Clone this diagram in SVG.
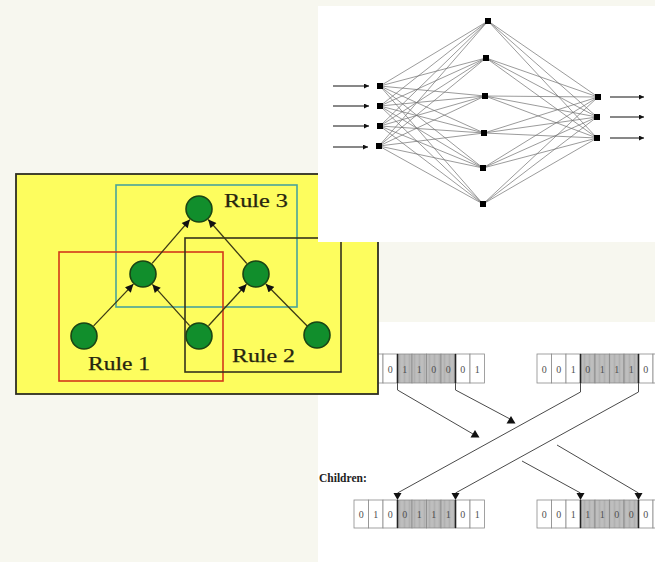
<svg xmlns="http://www.w3.org/2000/svg" width="655" height="562" viewBox="0 0 655 562">
  <style>
    .panel { fill: #ffffff; }
    .nn-edge { stroke: #707070; stroke-width: 0.7; fill: none; }
    .unit { fill: #000000; }
    .io { stroke: #111111; stroke-width: 1; fill: none; }
    .rule-node { fill: #118e2c; stroke: #1a4514; stroke-width: 1.6; }
    .rule-edge { stroke: #3c3a14; stroke-width: 1.3; fill: none; }
    .rule-label { font-family: "Liberation Serif", "Times New Roman", serif; font-size: 18px; fill: #26250f; stroke: #26250f; stroke-width: 0.25; }
    .cell { fill: #ffffff; stroke: #8a8a8a; stroke-width: 0.8; }
    .cell-x { fill: url(#stripes); stroke: #8a8a8a; stroke-width: 0.8; }
    .cut { stroke: #222222; stroke-width: 1.6; }
    .bit { font-family: "Liberation Serif", "Times New Roman", serif; font-size: 10px; fill: #505050; text-anchor: middle; }
    .ga-edge { stroke: #4a4a4a; stroke-width: 1; fill: none; }
    .head { fill: #111111; }
  </style>
  <defs>
    <marker id="nnArrow" viewBox="0 0 10 10" refX="10" refY="5" markerWidth="7" markerHeight="5" markerUnits="userSpaceOnUse" orient="auto">
      <path d="M0,0 L10,5 L0,10 z" fill="#111111"/>
    </marker>
    <marker id="ruleArrow" viewBox="0 0 10 10" refX="10" refY="5" markerWidth="9" markerHeight="8" markerUnits="userSpaceOnUse" orient="auto">
      <path d="M0,0 L10,5 L0,10 z" fill="#111111"/>
    </marker>
    <pattern id="stripes" width="5" height="10" patternUnits="userSpaceOnUse">
      <rect width="5" height="10" fill="#b9b9b9"/>
      <rect x="1.5" width="1" height="10" fill="#c3c3c3"/>
      <rect x="4" width="0.8" height="10" fill="#afafaf"/>
    </pattern>
  </defs>

  <!-- page background -->
  <rect width="655" height="562" fill="#f7f7ef"/>

  <!-- ===== Genetic crossover panel ===== -->
  <g id="crossover">
    <rect class="panel" x="318" y="322" width="337" height="240"/>

    <g id="parent1">
      <rect class="cell" x="354" y="354" width="14.5" height="29"/>
      <rect class="cell" x="368.5" y="354" width="14.5" height="29"/>
      <rect class="cell" x="383" y="354" width="14.5" height="29"/>
      <rect class="cell-x" x="397.5" y="354" width="14.5" height="29"/>
      <rect class="cell-x" x="412" y="354" width="14.5" height="29"/>
      <rect class="cell-x" x="426.5" y="354" width="14.5" height="29"/>
      <rect class="cell-x" x="441" y="354" width="14.5" height="29"/>
      <rect class="cell" x="455.5" y="354" width="14.5" height="29"/>
      <rect class="cell" x="470" y="354" width="14.5" height="29"/>
      <line class="cut" x1="397.5" y1="354" x2="397.5" y2="383"/>
      <line class="cut" x1="455.5" y1="354" x2="455.5" y2="383"/>
      <text class="bit" x="361.2" y="373">0</text>
      <text class="bit" x="375.7" y="373">1</text>
      <text class="bit" x="390.2" y="373">0</text>
      <text class="bit" x="404.7" y="373">1</text>
      <text class="bit" x="419.2" y="373">1</text>
      <text class="bit" x="433.7" y="373">0</text>
      <text class="bit" x="448.2" y="373">0</text>
      <text class="bit" x="462.7" y="373">0</text>
      <text class="bit" x="477.2" y="373">1</text>
    </g>

    <g id="parent2">
      <rect class="cell" x="537" y="354" width="14.5" height="29"/>
      <rect class="cell" x="551.5" y="354" width="14.5" height="29"/>
      <rect class="cell" x="566" y="354" width="14.5" height="29"/>
      <rect class="cell-x" x="580.5" y="354" width="14.5" height="29"/>
      <rect class="cell-x" x="595" y="354" width="14.5" height="29"/>
      <rect class="cell-x" x="609.5" y="354" width="14.5" height="29"/>
      <rect class="cell-x" x="624" y="354" width="14.5" height="29"/>
      <rect class="cell" x="638.5" y="354" width="14.5" height="29"/>
      <rect class="cell" x="653" y="354" width="14.5" height="29"/>
      <line class="cut" x1="580.5" y1="354" x2="580.5" y2="383"/>
      <line class="cut" x1="638.5" y1="354" x2="638.5" y2="383"/>
      <text class="bit" x="544.2" y="373">0</text>
      <text class="bit" x="558.7" y="373">0</text>
      <text class="bit" x="573.2" y="373">1</text>
      <text class="bit" x="587.7" y="373">0</text>
      <text class="bit" x="602.2" y="373">1</text>
      <text class="bit" x="616.7" y="373">1</text>
      <text class="bit" x="631.2" y="373">1</text>
      <text class="bit" x="645.7" y="373">0</text>
    </g>

    <text id="children-label" x="319" y="482" font-family="'Liberation Serif', 'Times New Roman', serif" font-size="11.5" font-weight="bold" fill="#222222">Children:</text>

    <g id="child1">
      <rect class="cell" x="354" y="500" width="14.5" height="28"/>
      <rect class="cell" x="368.5" y="500" width="14.5" height="28"/>
      <rect class="cell" x="383" y="500" width="14.5" height="28"/>
      <rect class="cell-x" x="397.5" y="500" width="14.5" height="28"/>
      <rect class="cell-x" x="412" y="500" width="14.5" height="28"/>
      <rect class="cell-x" x="426.5" y="500" width="14.5" height="28"/>
      <rect class="cell-x" x="441" y="500" width="14.5" height="28"/>
      <rect class="cell" x="455.5" y="500" width="14.5" height="28"/>
      <rect class="cell" x="470" y="500" width="14.5" height="28"/>
      <line class="cut" x1="397.5" y1="500" x2="397.5" y2="528"/>
      <line class="cut" x1="455.5" y1="500" x2="455.5" y2="528"/>
      <text class="bit" x="361.2" y="518">0</text>
      <text class="bit" x="375.7" y="518">1</text>
      <text class="bit" x="390.2" y="518">0</text>
      <text class="bit" x="404.7" y="518">0</text>
      <text class="bit" x="419.2" y="518">1</text>
      <text class="bit" x="433.7" y="518">1</text>
      <text class="bit" x="448.2" y="518">1</text>
      <text class="bit" x="462.7" y="518">0</text>
      <text class="bit" x="477.2" y="518">1</text>
    </g>

    <g id="child2">
      <rect class="cell" x="537" y="500" width="14.5" height="28"/>
      <rect class="cell" x="551.5" y="500" width="14.5" height="28"/>
      <rect class="cell" x="566" y="500" width="14.5" height="28"/>
      <rect class="cell-x" x="580.5" y="500" width="14.5" height="28"/>
      <rect class="cell-x" x="595" y="500" width="14.5" height="28"/>
      <rect class="cell-x" x="609.5" y="500" width="14.5" height="28"/>
      <rect class="cell-x" x="624" y="500" width="14.5" height="28"/>
      <rect class="cell" x="638.5" y="500" width="14.5" height="28"/>
      <rect class="cell" x="653" y="500" width="14.5" height="28"/>
      <line class="cut" x1="580.5" y1="500" x2="580.5" y2="528"/>
      <line class="cut" x1="638.5" y1="500" x2="638.5" y2="528"/>
      <text class="bit" x="544.2" y="518">0</text>
      <text class="bit" x="558.7" y="518">0</text>
      <text class="bit" x="573.2" y="518">1</text>
      <text class="bit" x="587.7" y="518">1</text>
      <text class="bit" x="602.2" y="518">1</text>
      <text class="bit" x="616.7" y="518">0</text>
      <text class="bit" x="631.2" y="518">0</text>
      <text class="bit" x="645.7" y="518">0</text>
    </g>

    <g id="crossover-links">
      <!-- segments from the second parent run unbroken -->
      <polyline class="ga-edge" points="580.5,383 580.5,392 397.5,493 397.5,496"/>
      <polyline class="ga-edge" points="638.5,383 638.5,392 455.5,493 455.5,496"/>
      <!-- segments from the first parent break where they cross -->
      <polyline class="ga-edge" points="397.5,383 397.5,390 473,434"/>
      <polyline class="ga-edge" points="522,461 580.5,493 580.5,496"/>
      <polyline class="ga-edge" points="455.5,383 455.5,390 510,419"/>
      <polyline class="ga-edge" points="557,445 638.5,493 638.5,496"/>
      <polygon class="head" points="475,430 470.5,437.5 479.5,437.5"/>
      <polygon class="head" points="511,416 506.5,423.5 515.5,423.5"/>
      <polygon class="head" points="397.5,500 393.5,493 401.5,493"/>
      <polygon class="head" points="455.5,500 451.5,493 459.5,493"/>
      <polygon class="head" points="580.5,500 576.5,493 584.5,493"/>
      <polygon class="head" points="638.5,500 634.5,493 642.5,493"/>
    </g>
  </g>

  <!-- ===== Rule network panel ===== -->
  <g id="rules">
    <rect x="16" y="174" width="362" height="220" fill="#fdfd5e" stroke="#2e2e22" stroke-width="1.8"/>

    <g id="rule3-box"><rect x="116" y="185" width="181" height="122" fill="none" stroke="#4aa39a" stroke-width="1.6"/></g>
    <g id="rule1-box"><rect x="59" y="252" width="164" height="129" fill="none" stroke="#d2381a" stroke-width="1.6"/></g>
    <g id="rule2-box"><rect x="185" y="238" width="156" height="134" fill="none" stroke="#35331c" stroke-width="1.6"/></g>

    <g id="rule-links">
      <line class="rule-edge" x1="93.6" y1="325.9" x2="133.4" y2="284.1" marker-end="url(#ruleArrow)"/>
      <line class="rule-edge" x1="189.6" y1="325.6" x2="152.4" y2="284.4" marker-end="url(#ruleArrow)"/>
      <line class="rule-edge" x1="208.5" y1="325.7" x2="246.5" y2="284.3" marker-end="url(#ruleArrow)"/>
      <line class="rule-edge" x1="307.2" y1="326" x2="265.8" y2="284" marker-end="url(#ruleArrow)"/>
      <line class="rule-edge" x1="152.1" y1="263.4" x2="189.9" y2="219.6" marker-end="url(#ruleArrow)"/>
      <line class="rule-edge" x1="246.8" y1="263.5" x2="208.2" y2="219.5" marker-end="url(#ruleArrow)"/>
    </g>

    <g id="node-top"><circle class="rule-node" cx="199" cy="209" r="13"/></g>
    <g id="node-mid-left"><circle class="rule-node" cx="143" cy="274" r="13"/></g>
    <g id="node-mid-right"><circle class="rule-node" cx="256" cy="274" r="13"/></g>
    <g id="node-bottom-left"><circle class="rule-node" cx="84" cy="336" r="13"/></g>
    <g id="node-bottom-mid"><circle class="rule-node" cx="199" cy="336" r="13"/></g>
    <g id="node-bottom-right"><circle class="rule-node" cx="317" cy="335" r="13"/></g>

    <text class="rule-label" x="224" y="207" textLength="64" lengthAdjust="spacingAndGlyphs">Rule 3</text>
    <text class="rule-label" x="88" y="370" textLength="62" lengthAdjust="spacingAndGlyphs">Rule 1</text>
    <text class="rule-label" x="232" y="362" textLength="63" lengthAdjust="spacingAndGlyphs">Rule 2</text>
  </g>

  <!-- ===== Feed-forward network panel ===== -->
  <g id="network">
    <rect class="panel" x="318" y="6" width="337" height="236"/>

    <g id="nn-links">
      <!-- input layer to hidden layer -->
      <path class="nn-edge" d="M380,86 L488,21 M380,86 L486,58 M380,86 L485,96 M380,86 L484,133 M380,86 L483,168 M380,86 L483,204
        M380,106 L488,21 M380,106 L486,58 M380,106 L485,96 M380,106 L484,133 M380,106 L483,168 M380,106 L483,204
        M380,126 L488,21 M380,126 L486,58 M380,126 L485,96 M380,126 L484,133 M380,126 L483,168 M380,126 L483,204
        M379,146 L488,21 M379,146 L486,58 M379,146 L485,96 M379,146 L484,133 M379,146 L483,168 M379,146 L483,204"/>
      <!-- hidden layer to output layer -->
      <path class="nn-edge" d="M488,21 L598,97 M488,21 L597,117 M488,21 L597,138
        M486,58 L598,97 M486,58 L597,117 M486,58 L597,138
        M485,96 L598,97 M485,96 L597,117 M485,96 L597,138
        M484,133 L598,97 M484,133 L597,117 M484,133 L597,138
        M483,168 L598,97 M483,168 L597,117 M483,168 L597,138
        M483,204 L598,97 M483,204 L597,117 M483,204 L597,138"/>
      <!-- inputs and outputs -->
      <line class="io" x1="333" y1="86" x2="369" y2="86" marker-end="url(#nnArrow)"/>
      <line class="io" x1="333" y1="106" x2="369" y2="106" marker-end="url(#nnArrow)"/>
      <line class="io" x1="333" y1="126" x2="369" y2="126" marker-end="url(#nnArrow)"/>
      <line class="io" x1="333" y1="147" x2="368" y2="147" marker-end="url(#nnArrow)"/>
      <line class="io" x1="610" y1="97" x2="644" y2="97" marker-end="url(#nnArrow)"/>
      <line class="io" x1="610" y1="117" x2="644" y2="117" marker-end="url(#nnArrow)"/>
      <line class="io" x1="610" y1="138" x2="644" y2="138" marker-end="url(#nnArrow)"/>
    </g>

    <g id="in-1"><rect class="unit" x="377" y="83" width="6" height="6"/></g>
    <g id="in-2"><rect class="unit" x="377" y="103" width="6" height="6"/></g>
    <g id="in-3"><rect class="unit" x="377" y="123" width="6" height="6"/></g>
    <g id="in-4"><rect class="unit" x="376" y="143" width="6" height="6"/></g>
    <g id="hid-1"><rect class="unit" x="485" y="18" width="6" height="6"/></g>
    <g id="hid-2"><rect class="unit" x="483" y="55" width="6" height="6"/></g>
    <g id="hid-3"><rect class="unit" x="482" y="93" width="6" height="6"/></g>
    <g id="hid-4"><rect class="unit" x="481" y="130" width="6" height="6"/></g>
    <g id="hid-5"><rect class="unit" x="480" y="165" width="6" height="6"/></g>
    <g id="hid-6"><rect class="unit" x="480" y="201" width="6" height="6"/></g>
    <g id="out-1"><rect class="unit" x="595" y="94" width="6" height="6"/></g>
    <g id="out-2"><rect class="unit" x="594" y="114" width="6" height="6"/></g>
    <g id="out-3"><rect class="unit" x="594" y="135" width="6" height="6"/></g>
  </g>
</svg>
